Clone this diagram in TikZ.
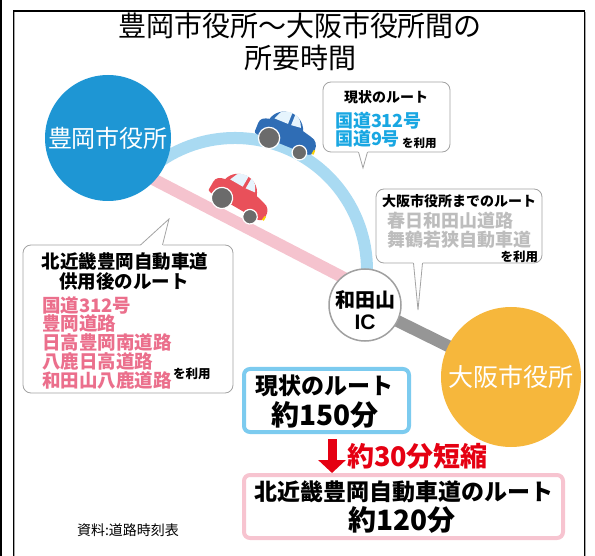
\documentclass[tikz,border=0pt]{standalone}
\usepackage{fontspec}
\setmainfont{Liberation Sans}
\newfontfamily\jp{Noto Sans CJK JP}
\usetikzlibrary{arrows.meta}

\definecolor{tblue}{HTML}{1E96D4}
\definecolor{oorange}{HTML}{F6B73C}
\definecolor{blueroad}{HTML}{A9DAF2}
\definecolor{pinkroad}{HTML}{F5C3CE}
\definecolor{grayroad}{HTML}{969696}
\definecolor{icgray}{HTML}{A0A0A0}
\definecolor{cgray}{HTML}{A3A3A3}
\definecolor{cyantext}{HTML}{19A7E2}
\definecolor{pinktext}{HTML}{EB6F8C}
\definecolor{graytext}{HTML}{BDBDBD}
\definecolor{boxblue}{HTML}{7CCBEF}
\definecolor{boxpink}{HTML}{F7C4D0}
\definecolor{redc}{HTML}{E50012}
\definecolor{carblue}{HTML}{2F6DB5}
\definecolor{carred}{HTML}{E9505A}
\definecolor{carwin}{HTML}{E6F4FD}
\definecolor{wheel}{HTML}{6B6B6B}

\pgfdeclarelayer{roads}
\pgfsetlayers{roads,main}

\newcommand\fsz[1]{\fontsize{#1}{#1}\selectfont}

\tikzset{
  bt/.style={font=\jp\bfseries\fsz{#1}},
  rt/.style={font=\jp\fsz{#1}},
  road/.style={line width=12pt},
  callout/.style={draw=cgray, line width=0.8pt, fill=white, rounded corners=8pt},
  calloutline/.style={draw=cgray, line width=0.8pt, line join=miter},
  bluebox/.style={draw=boxblue, line width=4pt, fill=white, rounded corners=6pt},
  pinkbox/.style={draw=boxpink, line width=4pt, fill=white, rounded corners=6pt},
  pics/car/.style 2 args={code={
    % body with domed cabin
    \fill[#1] (-27,7) -- (-27,-1) .. controls (-27,-5) and (-24,-7) .. (-19,-8)
      .. controls (-15,-23) and (7,-25) .. (13,-9)
      -- (21,-7) .. controls (27,-6) and (29,-2) .. (29,3)
      .. controls (29,7) and (27,9) .. (23,9) -- (-24,9)
      .. controls (-26,9) and (-27,8) .. (-27,7) -- cycle;
    % windows
    \fill[#2] (-15,-10) -- (-12,-17) .. controls (-9,-20) and (-5,-20.5) .. (-2,-20.5)
      -- (-2,-10) -- cycle;
    \fill[#2] (1,-10) -- (1,-20.3) .. controls (5,-19.5) and (8,-16) .. (10,-11) -- cycle;
    % headlight
    \fill[yellow!70!orange] (28,3) -- (29.5,3) -- (29.5,7) -- (27.5,7) -- cycle;
    % wheels
    \filldraw[fill=wheel, draw=white, line width=1.2pt] (-13,8) circle[radius=9.5];
    \filldraw[fill=wheel, draw=white, line width=1.2pt] (17,10) circle[radius=6.5];
  }}
}

\begin{document}
\begin{tikzpicture}[x=1pt, y=-1pt, font=\jp,
  every node/.style={inner sep=0pt, outer sep=0pt}]
\useasboundingbox (0,0) rectangle (595,556);

% frame
\draw[line width=1.5pt] (0.8,0) -- (0.8,556);
\draw[black!35, line width=1pt] (14.8,12) -- (14.8,556);
\draw[black!35, line width=1pt] (585.8,12) -- (585.8,556);
\draw[line width=1.5pt] (13.3,556) -- (13.3,11) -- (584.3,11) -- (584.3,556);

% title
\node[rt=28] (title1) at (300,26) {豊岡市役所～大阪市役所間の};
\node[rt=28] (title2) at (300,58) {所要時間};

% places
\node[circle, fill=tblue, minimum size=126pt, text=white, font=\jp\fsz{24}] (toyooka) at (108,138) {豊岡市役所};
\node[circle, fill=oorange, minimum size=140pt, text=white, font=\jp\fsz{25}] (osaka) at (511,377) {大阪市役所};
\node[circle, draw=icgray, line width=1.5pt, fill=white, minimum size=72pt] (ic) at (365,305) {};
\node[bt=20] (ic1) at (365,300) {和田山};
\node[font=\rmfamily\bfseries\fsz{21}] (ic2) at (365,322) {IC};

% roads
\coordinate (arccenter) at (235,270);
\coordinate (pinkA) at (120,162);
\coordinate (pinkB) at (350,281);
\begin{pgfonlayer}{roads}
  \draw[road, draw=pinkroad] (pinkA) -- (pinkB);
  \draw[road, draw=grayroad] (ic.center) -- (osaka.center);
  \draw[road, draw=blueroad] (arccenter) ++(-125:132) arc[start angle=-125, end angle=5, radius=132];
\end{pgfonlayer}

% cars
\pic[rotate=-22, scale=1.12] (bluecar) at (285.9,135.1) {car={carblue}{carwin}};
\pic[rotate=-30, scale=1.12] (redcar) at (239.1,197.5) {car={carred}{carwin}};

% callout: present route
\draw[callout] (323,82) rectangle (450,152);
\fill[white] (358,151) -- (363,168) -- (368,151) -- cycle;
\draw[calloutline] (358.5,152) -- (363,168) -- (367.5,152);
\node[bt=14] (c1h) at (386,97) {現状のルート};
\node[bt=18, text=cyantext, anchor=west] (c1a) at (335,121) {国道312号};
\node[bt=18, text=cyantext, anchor=west] (c1b) at (335,139) {国道9号};
\node[bt=11.5, anchor=west] (c1c) at (402,143) {を利用};

% callout: route to Osaka
\draw[callout] (376,189) rectangle (542,263);
\fill[white] (413,262) -- (418,310) -- (423,262) -- cycle;
\draw[calloutline] (413.5,263) -- (418,310) -- (422.5,263);
\node[bt=14, anchor=west] (c2h) at (382,201) {大阪市役所までのルート};
\node[bt=18, text=graytext, anchor=west] (c2a) at (387,221) {春日和田山道路};
\node[bt=18, text=graytext, anchor=west] (c2b) at (387,240) {舞鶴若狭自動車道};
\node[bt=12.5, anchor=east] (c2c) at (538,257) {を利用};

% callout: route after the expressway opens
\draw[callout] (23,245) rectangle (233,393);
\fill[white] (140,246) -- (169,219) -- (163,246) -- cycle;
\draw[calloutline] (140.5,245) -- (169,219) -- (162.5,245);
\node[bt=18.5] (c3h1) at (125,262) {北近畿豊岡自動車道};
\node[bt=18.5] (c3h2) at (124,281) {供用後のルート};
\node[bt=18.5, text=pinktext, anchor=west] (c3a) at (42,305) {国道312号};
\node[bt=18.5, text=pinktext, anchor=west] (c3b) at (42,323) {豊岡道路};
\node[bt=18.5, text=pinktext, anchor=west] (c3c) at (42,342) {日高豊岡南道路};
\node[bt=18.5, text=pinktext, anchor=west] (c3d) at (42,361) {八鹿日高道路};
\node[bt=18.5, text=pinktext, anchor=west] (c3e) at (42,380) {和田山八鹿道路};
\node[bt=12.5, anchor=west] (c3f) at (173,374) {を利用};

% travel time boxes
\node[bluebox, minimum width=165pt, minimum height=63pt] (now) at (326.5,400.5) {};
\node[bt=23] (nowa) at (324,386) {現状のルート};
\node[bt=28] (nowb) at (325,415) {約150分};

\node[pinkbox, minimum width=319pt, minimum height=63pt] (kinki) at (403.5,506.5) {};
\node[bt=23] (kinkia) at (403.5,492) {北近畿豊岡自動車道のルート};
\node[bt=28] (kinkib) at (402,520) {約120分};

% time saved
\coordinate (arrtop) at (332,439);
\coordinate (arrbot) at (332,473);
\draw[redc, line width=9pt, -{Triangle[width=27pt, length=13pt]}] (arrtop) -- (arrbot);
\node[bt=27, text=redc, anchor=west] (cut) at (347,456) {約30分短縮};

% source
\node[rt=14, anchor=west] (src) at (77,530) {資料:道路時刻表};
\end{tikzpicture}
\end{document}
